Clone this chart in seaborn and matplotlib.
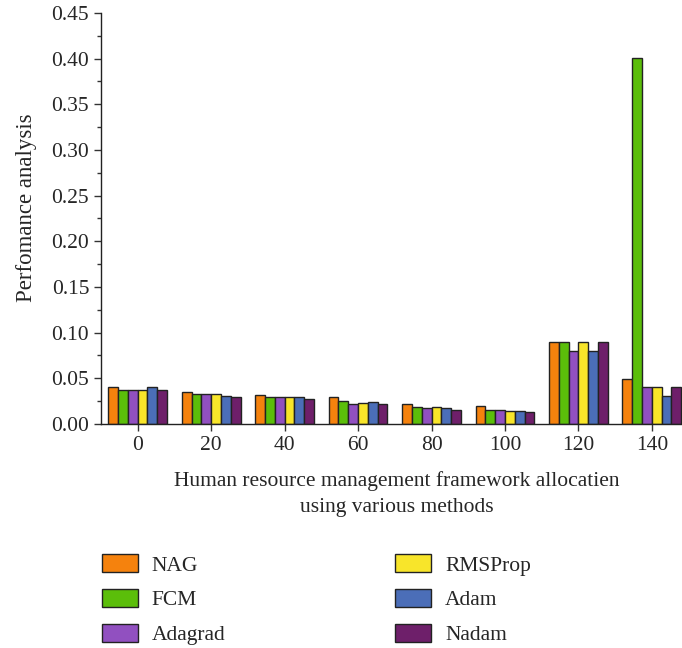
import pandas as pd
import matplotlib.pyplot as plt
import seaborn as sns
from matplotlib.ticker import MultipleLocator

allocations = ['0', '20', '40', '60', '80', '100', '120', '140']
methods = ['NAG', 'FCM', 'Adagrad', 'RMSProp', 'Adam', 'Nadam']

nag = [0.040, 0.035, 0.032, 0.029, 0.022, 0.020, 0.090, 0.049]
fcm = [0.037, 0.033, 0.030, 0.025, 0.019, 0.015, 0.090, 0.401]
adagrad = [0.037, 0.033, 0.030, 0.022, 0.0175, 0.015, 0.080, 0.040]
rmsprop = [0.037, 0.033, 0.030, 0.0235, 0.019, 0.0145, 0.090, 0.040]
adam = [0.040, 0.031, 0.029, 0.024, 0.017, 0.0145, 0.080, 0.031]
nadam = [0.037, 0.030, 0.027, 0.022, 0.015, 0.013, 0.090, 0.040]

colors = ['#F5820D', '#5BBE0A', '#9150C0', '#F8E52A', '#4B6EB8', '#6E1F6A']

series = [nag, fcm, adagrad, rmsprop, adam, nadam]
rows = []
for m, vals in zip(methods, series):
    for a, v in zip(allocations, vals):
        rows.append({'allocation': a, 'method': m, 'value': v})
df = pd.DataFrame(rows)

sns.set_style('ticks')
plt.rcParams['font.family'] = ['Liberation Serif', 'DejaVu Serif']

fig = plt.figure(figsize=(6.82, 6.48), dpi=100)
ax = fig.add_axes([0.148, 0.3457, 0.852, 0.6343])

sns.barplot(data=df, x='allocation', y='value', hue='method', order=allocations,
            hue_order=methods, palette=colors, saturation=1, width=0.8,
            edgecolor='#222222', linewidth=1.0, ax=ax)

ax.set_ylim(0, 0.45)
ax.set_xlim(-0.5, 7.41)
ax.yaxis.set_major_locator(MultipleLocator(0.05))
ax.yaxis.set_minor_locator(MultipleLocator(0.025))
ax.set_yticklabels([f'{t:.2f}' for t in ax.get_yticks()])
ax.tick_params(axis='both', labelsize=15.5, direction='out', length=5, width=1, color='#333333')
ax.tick_params(axis='y', which='minor', length=3, width=1, color='#333333')
sns.despine(ax=ax)
for s in ['left', 'bottom']:
    ax.spines[s].set_color('#222222')
    ax.spines[s].set_linewidth(1.0)

ax.set_ylabel('Perfomance analysis', fontsize=16.5, labelpad=10)
ax.yaxis.label.set_y(0.527)
ax.set_xlabel('Human resource management framework allocatien\nusing various methods',
              fontsize=15.5, labelpad=12, linespacing=1.45)
ax.xaxis.label.set_x(0.509)

ax.legend_.remove()
handles, labels = ax.get_legend_handles_labels()
fig.legend(handles, labels, ncol=2, loc='upper left', bbox_to_anchor=(0.121, 0.175),
           frameon=False, fontsize=15.5, handlelength=1.67, handleheight=0.93,
           columnspacing=7.9, labelspacing=0.62, handletextpad=0.64)

fig.savefig('out.png', dpi=100)
